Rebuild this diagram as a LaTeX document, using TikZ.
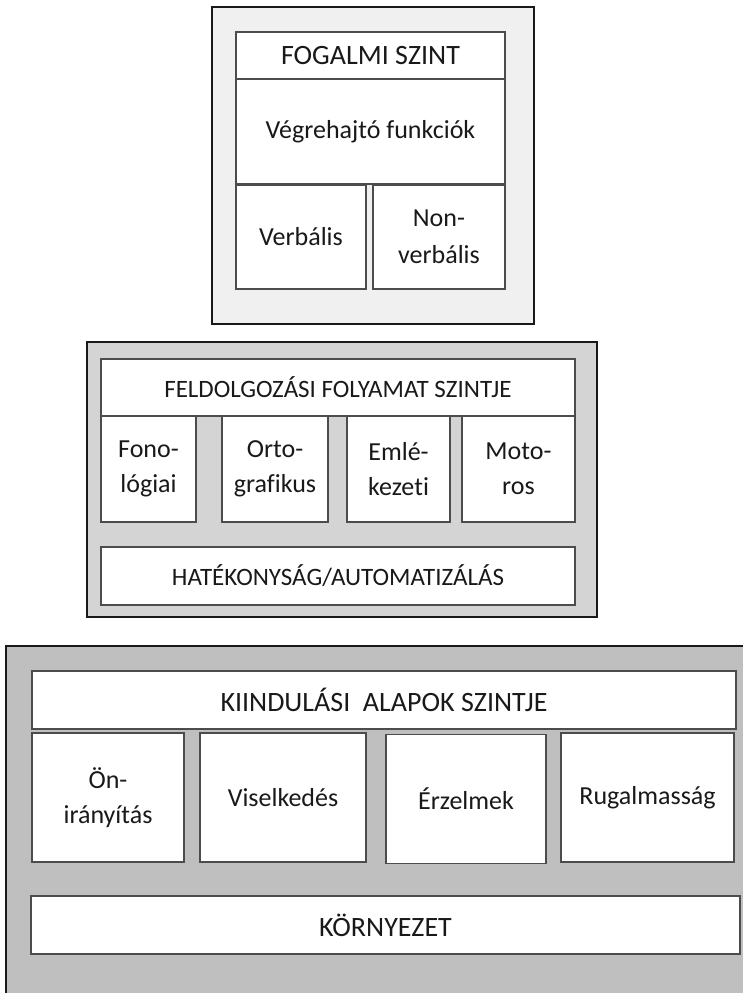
\documentclass[tikz,border=0pt]{standalone}
\usepackage{fontspec}
\setmainfont{Carlito}[Ligatures={NoCommon,NoContextual}]
\begin{document}
\begin{tikzpicture}[x=1pt,y=-1pt,
  cellst/.style={draw=black!70, line width=1.1pt, fill=white, inner sep=0pt, align=center, font=\fontsize{26}{35}\selectfont, text=black!90},
  bigcap/.style={font=\fontsize{28}{35}\selectfont},
  midcap/.style={font=\fontsize{25}{35}\selectfont},
  toptext/.style={font=\fontsize{26}{37}\selectfont},
  outerst/.style={draw=black!90, line width=1.6pt, inner sep=0pt}]
\path[fill=white] (0,0) rectangle (743,993);
\useasboundingbox (0,0) rectangle (743,993);
% outer frames
\node[outerst, fill=black!6, minimum width=322pt, minimum height=317pt] (topframe) at (373,165.5) {};
\node[outerst, fill=black!17, minimum width=510pt, minimum height=275pt] (midframe) at (342,479.5) {};
\node[outerst, fill=black!25, minimum width=770pt, minimum height=380pt] (baseframe) at (391,836) {};
% top level
\node[cellst, bigcap, minimum width=269pt, minimum height=47pt] (fogalmi) at (370.5,55.5) {FOGALMI SZINT};
\node[cellst, toptext, minimum width=269pt, minimum height=105pt] (vegre) at (370.5,131.5) {Végrehajtó funkciók};
\node[cellst, toptext, minimum width=130pt, minimum height=104pt] (verb) at (301,237) {Verbális};
\node[cellst, toptext, minimum width=132pt, minimum height=104pt] (nonverb) at (439,237) {Non-\\verbális};
% middle level
\node[cellst, midcap, minimum width=474pt, minimum height=57pt] (feldolg) at (338,387.5) {FELDOLGOZÁSI FOLYAMAT SZINTJE};
\node[cellst, minimum width=95pt, minimum height=106pt] (fono) at (148.5,469) {Fono-\\lógiai};
\node[cellst, minimum width=106pt, minimum height=106pt] (orto) at (275,469) {Orto-\\grafikus};
\node[cellst, minimum width=103pt, minimum height=106pt] (emle) at (398.5,469) {Emlé-\\kezeti};
\node[cellst, minimum width=113pt, minimum height=106pt] (moto) at (518.5,469) {Moto-\\ros};
\node[cellst, midcap, minimum width=474pt, minimum height=58pt] (hatek) at (338,576) {HATÉKONYSÁG/AUTOMATIZÁLÁS};
% base level
\node[cellst, bigcap, minimum width=704pt, minimum height=58pt] (kiindul) at (384,700) {KIINDULÁSI\ \ ALAPOK SZINTJE};
\node[cellst, minimum width=152pt, minimum height=129pt] (onir) at (108,797.5) {Ön-\\irányítás};
\node[cellst, minimum width=166pt, minimum height=129pt] (visel) at (283,797.5) {Viselkedés};
\node[cellst, minimum width=160pt, minimum height=129pt] (erzel) at (466,799) {Érzelmek};
\node[cellst, minimum width=173pt, minimum height=129pt] (rugal) at (647.5,797.5) {Rugalmasság};
\node[cellst, bigcap, minimum width=709pt, minimum height=58pt] (korny) at (385.5,925) {KÖRNYEZET};
\end{tikzpicture}
\end{document}
